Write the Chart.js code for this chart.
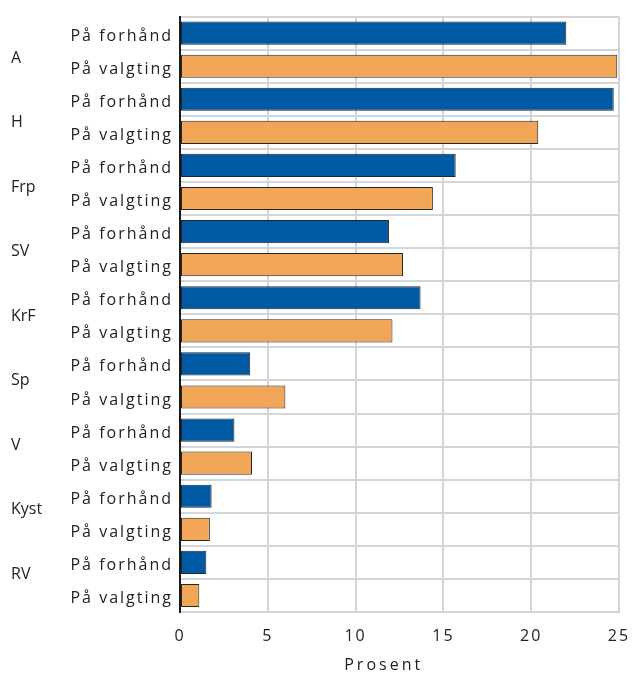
<!DOCTYPE html>
<html>
<head>
<meta charset="utf-8">
<script src="https://cdn.jsdelivr.net/npm/chart.js@4.4.1/dist/chart.umd.min.js"></script>
<style>
  html, body { margin: 0; padding: 0; background: #fff; }
  #wrap { width: 632px; height: 673px; }
</style>
</head>
<body>
<div id="wrap"><canvas id="chart"></canvas></div>
<script>
const parties = ['A', 'H', 'Frp', 'SV', 'KrF', 'Sp', 'V', 'Kyst', 'RV'];
const forhand = [22.0, 24.7, 15.7, 11.9, 13.7, 4.0, 3.1, 1.8, 1.5];
const valgting = [24.9, 20.4, 14.4, 12.7, 12.1, 6.0, 4.1, 1.7, 1.1];
const rowNames = ['På forhånd', 'På valgting'];
const xTicks = [0, 5, 10, 15, 20, 25];
const xTitle = 'Prosent';

const BLUE = '#0059a3';
const ORANGE = '#f0a656';
const GRID = '#d2d5da';
const TEXT = '#222';

// interleave: forhånd, valgting per party
const labels = [];
const values = [];
const colors = [];
parties.forEach((p, i) => {
    labels.push(rowNames[0], rowNames[1]);
    values.push(forhand[i], valgting[i]);
    colors.push(BLUE, ORANGE);
});

const spacing = {
    id: 'spacing',
    beforeDraw(chart) {
        chart.ctx.letterSpacing = '2px';
    },
    afterDraw(chart) {
        const ctx = chart.ctx;
        const x = chart.scales.x;
        const y = chart.scales.y;
        ctx.save();
        ctx.fillStyle = TEXT;
        ctx.textBaseline = 'middle';
        // party names at the far left
        ctx.letterSpacing = '0px';
        ctx.font = '16px "Open Sans"';
        ctx.textAlign = 'left';
        parties.forEach((p, i) => {
            ctx.fillText(p, 11, y.getPixelForValue(0.76 + i * 1.95));
        });
        // axis title, a bit left of centre like the original
        ctx.letterSpacing = '3px';
        ctx.textAlign = 'center';
        ctx.fillText(xTitle, x.getPixelForValue(11.6), 665);
        ctx.restore();
    }
};

new Chart(document.getElementById('chart'), {
    type: 'bar',
    data: {
        labels: labels,
        datasets: [{
            data: values,
            backgroundColor: colors,
            borderColor: '#262626',
            borderWidth: 1,
            borderSkipped: false,
            barPercentage: 0.7,
            categoryPercentage: 1.0
        }]
    },
    options: {
        indexAxis: 'y',
        responsive: true,
        maintainAspectRatio: false,
        animation: false,
        layout: { padding: { left: 0, top: 15, right: 13, bottom: 0 } },
        plugins: {
            legend: { display: false },
            tooltip: { enabled: false }
        },
        scales: {
            x: {
                min: 0,
                max: 25,
                afterFit(scale) {
                    scale.height = 61;
                    scale.paddingLeft = 0;
                    scale.paddingRight = 0;
                },
                afterBuildTicks(scale) { scale.ticks = xTicks.map(v => ({ value: v })); },
                grid: {
                    color: GRID,
                    lineWidth: 2,
                    drawTicks: false
                },
                border: { color: GRID, width: 2 },
                ticks: {
                    padding: 15,
                    color: TEXT,
                    font: { family: 'Open Sans', size: 16 }
                }
            },
            y: {
                afterFit(scale) { scale.width = 180; },
                grid: {
                    color: GRID,
                    lineWidth: 2,
                    drawTicks: false
                },
                border: { color: '#1a1a1a', width: 2 },
                ticks: {
                    padding: 7,
                    labelOffset: 3,
                    color: TEXT,
                    font: { family: 'Open Sans', size: 16 }
                }
            }
        }
    },
    plugins: [spacing]
});
</script>
</body>
</html>
